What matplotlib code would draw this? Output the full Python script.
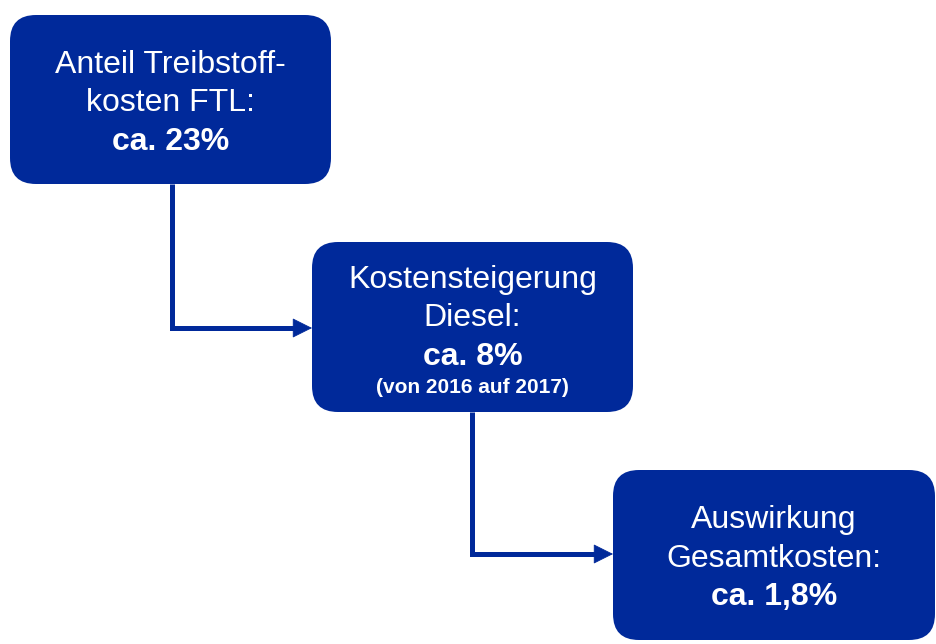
import matplotlib
matplotlib.use('Agg')
import matplotlib.pyplot as plt
from matplotlib.patches import FancyBboxPatch

plt.rcParams['font.family'] = ['Liberation Sans', 'DejaVu Sans']

# Inhalte der drei Kästen
titel = [
    ['Anteil Treibstoff-', 'kosten FTL:'],
    ['Kostensteigerung', 'Diesel:'],
    ['Auswirkung', 'Gesamtkosten:'],
]
werte = ['ca. 23%', 'ca. 8%', 'ca. 1,8%']
zusatz = ['', '(von 2016 auf 2017)', '']

blau = '#00299A'

# Kastenpositionen in Pixeln (links, oben, breite, hoehe)
kaesten = [(10, 15, 321, 169), (312, 242, 321, 170), (613, 470, 322, 170)]
# Grundlinien der Textzeilen
zeilen = [(73, 111, 150), (288, 326, 365), (528, 567, 605)]
zusatz_y = [0, 393, 0]

fig = plt.figure(figsize=(9.36, 6.44), dpi=100)
ax = fig.add_axes([0, 0, 1, 1])
ax.set_xlim(0, 936)
ax.set_ylim(644, 0)
ax.axis('off')

for i, (x, y, w, h) in enumerate(kaesten):
    box = FancyBboxPatch((x, y), w, h, boxstyle='round,pad=0,rounding_size=26',
                         facecolor=blau, edgecolor='none')
    ax.add_patch(box)
    cx = x + w / 2
    ax.text(cx, zeilen[i][0], titel[i][0], color='white', fontsize=23,
            ha='center', va='baseline')
    ax.text(cx, zeilen[i][1], titel[i][1], color='white', fontsize=23,
            ha='center', va='baseline')
    ax.text(cx, zeilen[i][2], werte[i], color='white', fontsize=23,
            fontweight='bold', ha='center', va='baseline')
    if zusatz[i]:
        ax.text(cx, zusatz_y[i], zusatz[i], color='white', fontsize=15,
                fontweight='bold', ha='center', va='baseline')

# Verbindungspfeile (vertikal runter, dann nach rechts)
pfeile = [(172, 184, 328, 312), (472, 412, 554, 613)]
for px, y0, y1, x1 in pfeile:
    ax.plot([px, px, x1 - 12], [y0, y1, y1], color=blau, lw=3.6,
            solid_capstyle='butt', solid_joinstyle='miter')
    ax.annotate('', xy=(x1, y1), xytext=(x1 - 20, y1),
                arrowprops=dict(arrowstyle='-|>,head_length=1.0,head_width=0.5',
                                color=blau, lw=0.5, mutation_scale=13,
                                joinstyle='miter', shrinkA=0, shrinkB=0))

fig.savefig('out.png', dpi=100)
